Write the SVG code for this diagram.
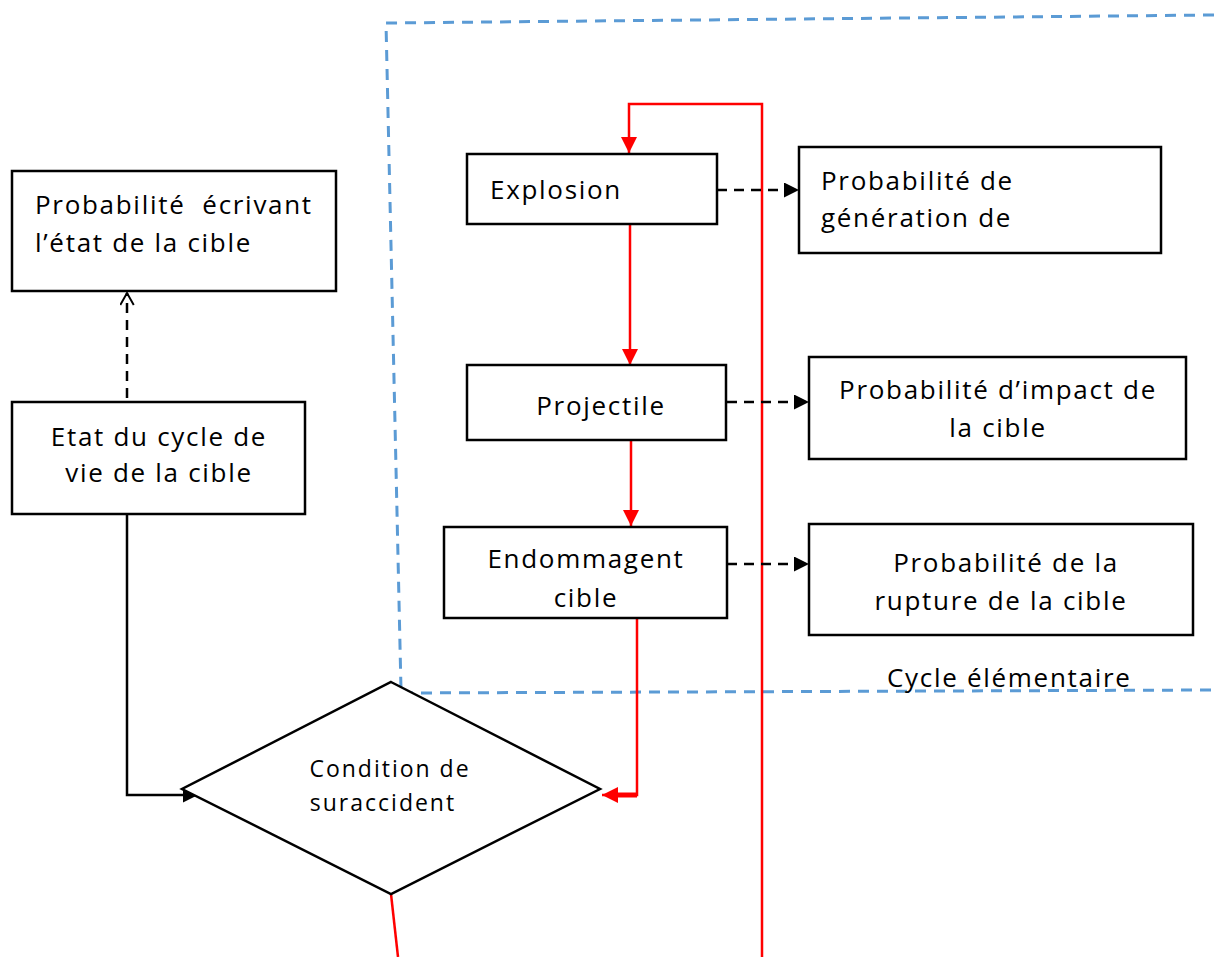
<svg xmlns="http://www.w3.org/2000/svg" width="1214" height="957" viewBox="0 0 1214 957">
<style>
.box{fill:#fff;stroke:#000;stroke-width:2.5}
.t{font-family:"Open Sans","Noto Sans","DejaVu Sans",sans-serif;font-size:26px;letter-spacing:1.7px;fill:#000}
.s{font-size:23px;letter-spacing:2px}
.c{text-anchor:middle}
.red{stroke:#f00;stroke-width:2.5;fill:none}
.blk{stroke:#000;stroke-width:2.5;fill:none}
.dash{stroke:#000;stroke-width:2.5;fill:none;stroke-dasharray:10 7}
.blue{stroke:#5B9BD5;stroke-width:3;fill:none;stroke-dasharray:11 8}
</style>
<defs>
<marker id="ar" viewBox="0 0 10 10" refX="10" refY="5" markerWidth="6.5" markerHeight="6.5" markerUnits="strokeWidth" orient="auto"><path d="M0,0 L10,5 L0,10 Z" fill="#f00"/></marker>
<marker id="ab" viewBox="0 0 10 10" refX="10" refY="5" markerWidth="6" markerHeight="6" markerUnits="strokeWidth" orient="auto"><path d="M0,0 L10,5 L0,10 Z" fill="#000"/></marker>
<marker id="ao" viewBox="0 0 10 10" refX="9" refY="5" markerWidth="6" markerHeight="6" markerUnits="strokeWidth" orient="auto"><path d="M1,0.5 L9,5 L1,9.5" fill="none" stroke="#000" stroke-width="1.3"/></marker>
</defs>
<g id="cycle-frame">
<path class="blue" d="M1214,15 L386,23 L401,690"/>
<path class="blue" d="M402,693 L1214,690"/>
<text class="t" x="887" y="687">Cycle élémentaire</text>
</g>
<g id="connectors">
<path class="dash" d="M127,398 L127,293" marker-end="url(#ao)"/>
<path class="blk" d="M127,514 L127,795 L198,795" marker-end="url(#ab)"/>
<path class="red" d="M762,957 L762,104 L629,104 L629,153" marker-end="url(#ar)"/>
<path class="red" d="M630,225 L630,365" marker-end="url(#ar)"/>
<path class="red" d="M631,440 L631,526" marker-end="url(#ar)"/>
<path class="red" d="M637,619 L637,795 L602,795" marker-end="url(#ar)"/>
<path d="M637,795 L615,795" stroke="#f00" stroke-width="5"/>
<path class="red" d="M391,894 L398,957"/>
<path class="dash" d="M717,190 L799,190" marker-end="url(#ab)"/>
<path class="dash" d="M727,402 L809,402" marker-end="url(#ab)"/>
<path class="dash" d="M727,564 L809,564" marker-end="url(#ab)"/>
</g>
<g id="node-etat-cible">
<rect class="box" x="12" y="171" width="324" height="120"/>
<text class="t" x="35" y="214" xml:space="preserve">Probabilité  écrivant</text>
<text class="t" x="35" y="252">l’état de la cible</text>
</g>
<g id="node-cycle-vie">
<rect class="box" x="12" y="402" width="293" height="112"/>
<text class="t c" x="159" y="446">Etat du cycle de</text>
<text class="t c" x="159" y="482">vie de la cible</text>
</g>
<g id="node-condition">
<path class="box" d="M391,682 L600,789 L391,894 L182,789 Z"/>
<text class="t s c" x="390" y="777">Condition de</text>
<text class="t s c" x="383" y="811">suraccident</text>
</g>
<g id="node-explosion">
<rect class="box" x="467" y="154" width="250" height="70"/>
<text class="t" x="490" y="199">Explosion</text>
</g>
<g id="node-projectile">
<rect class="box" x="467" y="365" width="259" height="75"/>
<text class="t c" x="601" y="415">Projectile</text>
</g>
<g id="node-endommagent">
<rect class="box" x="444" y="527" width="283" height="91"/>
<text class="t c" x="586" y="568">Endommagent</text>
<text class="t c" x="586" y="607">cible</text>
</g>
<g id="node-generation">
<rect class="box" x="799" y="147" width="362" height="106"/>
<text class="t" x="821" y="190">Probabilité de</text>
<text class="t" x="821" y="227">génération de</text>
</g>
<g id="node-impact">
<rect class="box" x="809" y="357" width="377" height="102"/>
<text class="t c" x="998" y="399">Probabilité d’impact de</text>
<text class="t c" x="998" y="437">la cible</text>
</g>
<g id="node-rupture">
<rect class="box" x="809" y="524" width="384" height="111"/>
<text class="t c" x="1006" y="572">Probabilité de la</text>
<text class="t c" x="1001" y="610">rupture de la cible</text>
</g>
</svg>
